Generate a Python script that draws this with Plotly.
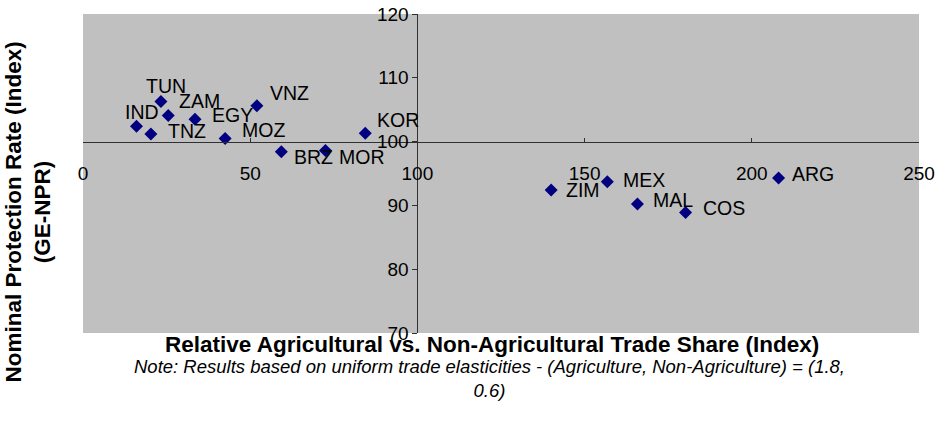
import plotly.graph_objects as go

# Data
countries = ["IND", "TNZ", "TUN", "ZAM", "EGY", "MOZ", "VNZ", "BRZ", "MOR", "KOR",
             "ZIM", "MEX", "MAL", "COS", "ARG"]
trade_share = [16.0, 20.3, 23.3, 25.5, 33.5, 42.5, 52.0, 59.3, 72.5, 84.4,
               140.0, 156.8, 165.8, 180.2, 208.0]
npr = [102.4, 101.2, 106.3, 104.1, 103.5, 100.5, 105.6, 98.4, 98.6, 101.3,
       92.4, 93.7, 90.2, 88.9, 94.3]
x_ticks = [0, 50, 100, 150, 200, 250]
y_ticks = [70, 80, 90, 100, 110, 120]

# label offsets in pixels (style)
label_dx = [-14, 15, -17, 9, 15, 15, 11, 11, 12, 10, 13, 14, 14, 15, 11]
label_dy = [14, 3, 15, 14, 4, 8, 13, -5, -6, 13, 0, 2, 4, 4, 4]

FONT = "Liberation Sans, Arial, sans-serif"
AXIS_COLOR = "#303030"

fig = go.Figure()
fig.add_trace(go.Scatter(
    x=trade_share, y=npr, mode="markers",
    marker=dict(symbol="diamond", size=10, color="#000080"),
    hoverinfo="skip", showlegend=False,
))

for c, xv, yv, dx, dy in zip(countries, trade_share, npr, label_dx, label_dy):
    fig.add_annotation(x=xv, y=yv, text=c, showarrow=False,
                       xanchor="left", yanchor="middle", xshift=dx, yshift=dy,
                       font=dict(family=FONT, size=19.5, color="black"))

fig.add_annotation(xref="paper", yref="paper", x=0.489, y=-0.036, yanchor="middle",
                   text="<b>Relative Agricultural vs. Non-Agricultural Trade Share (Index)</b>",
                   showarrow=False, font=dict(family=FONT, size=22.5, color="black"))
fig.add_annotation(xref="paper", yref="paper", x=0.486, y=-0.143, yanchor="middle",
                   text="<i>Note: Results based on uniform trade elasticities - (Agriculture, Non-Agriculture) = (1.8,<br>0.6)</i>",
                   showarrow=False, align="center",
                   font=dict(family=FONT, size=18.5, color="black"))
fig.add_annotation(xref="paper", yref="paper", x=-0.066, y=0.38, textangle=-90,
                   xanchor="center", yanchor="middle",
                   text="<b>Nominal Protection Rate (Index)<br>(GE-NPR)</b>",
                   showarrow=False, align="center",
                   font=dict(family=FONT, size=22.5, color="black"))

fig.update_layout(
    width=937, height=428,
    margin=dict(l=83, r=18, t=14, b=95, autoexpand=False),
    paper_bgcolor="white", plot_bgcolor="#C0C0C0",
    font=dict(family=FONT, color="black"),
    xaxis=dict(range=[0, 250], tickvals=x_ticks, anchor="free", position=0.6,
               automargin=False,
               showgrid=False, zeroline=False, showline=True, linecolor=AXIS_COLOR,
               linewidth=1, ticks="inside", ticklen=4, tickcolor=AXIS_COLOR,
               ticklabelstandoff=15, tickfont=dict(family=FONT, size=19, color="black")),
    yaxis=dict(range=[70, 120], tickvals=y_ticks, anchor="free", position=0.4,
               automargin=False,
               showgrid=False, zeroline=False, showline=True, linecolor=AXIS_COLOR,
               linewidth=1, ticks="outside", ticklen=5, tickcolor=AXIS_COLOR,
               tickfont=dict(family=FONT, size=19, color="black")),
)

fig.write_html("out.html",
               config={"displayModeBar": False},
               post_script="document.body.style.margin='0';document.body.style.overflow='hidden';")
